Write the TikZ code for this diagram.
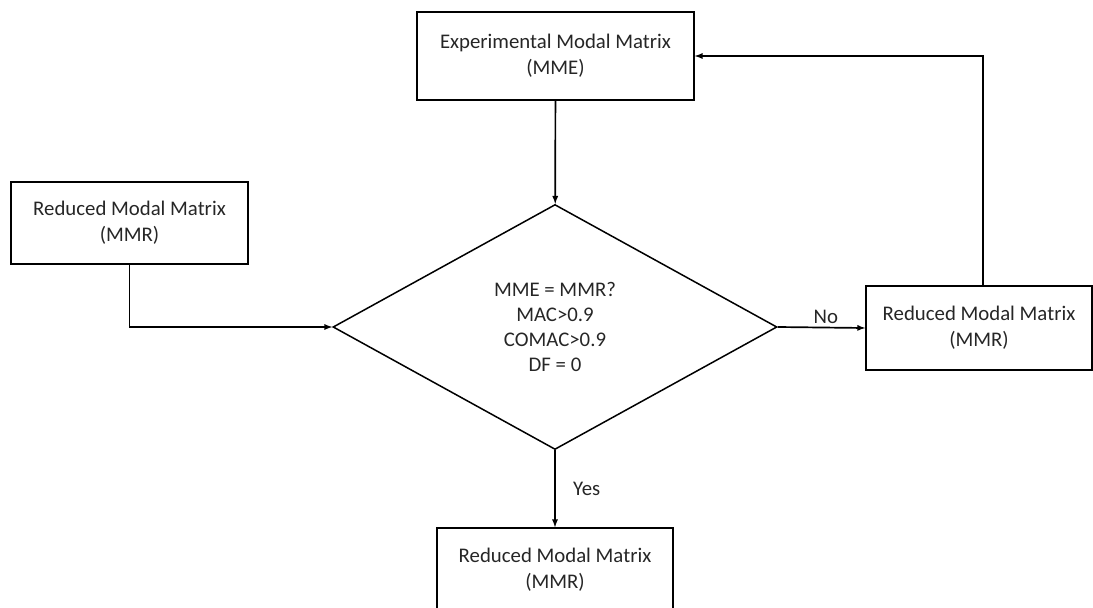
\documentclass[tikz,border=0pt]{standalone}
\usepackage{fontspec}
\setmainfont{Carlito}
\usepackage{tikz}
\usetikzlibrary{positioning}
\usetikzlibrary{shapes,arrows}
\begin{document}
\begin{tikzpicture}[x=1pt,y=-1pt]
\tikzstyle{matbox}=[rectangle, draw=black, line width=1.5pt, text=black!85, align=center, inner sep=0pt, minimum height=84pt, font=\fontsize{20.8}{26}\selectfont]
\tikzstyle{test}=[diamond, draw=black, line width=1.5pt, text=black!85, align=center, inner sep=0pt, minimum width=444pt, minimum height=245pt, font=\fontsize{20.8}{25}\selectfont]
\tikzstyle{lbl}=[text=black!85, font=\fontsize{20.8}{25}\selectfont]
\tikzstyle{connect}=[-latex, draw=black, line width=1.7pt]
\useasboundingbox (0,0) rectangle (1093,608);
	\node[matbox, minimum width=277pt, minimum height=88pt] (mme) at (555.5,56) {Experimental Modal Matrix\\(MME)};
	\node[matbox, minimum width=237pt, minimum height=82pt] (mmr_l) at (129.5,223) {Reduced Modal Matrix\\(MMR)};
	\node[test] (check) at (555,327) {MME = MMR?\\MAC>0.9\\COMAC>0.9\\DF = 0};
	\node[matbox, minimum width=226pt] (mmr_r) at (979,328) {Reduced Modal Matrix\\(MMR)};
	\node[matbox, minimum width=236pt] (mmr_b) at (555,570) {Reduced Modal Matrix\\(MMR)};
	
	
	\draw[connect] (mme) -- (check);
	\draw[connect] (mmr_l.south) |- (check.west);
	\draw[connect] (check.east) -- node[lbl, above, pos=0.55] {No} (mmr_r.west);
	\draw[connect] ([xshift=4]mmr_r.north) |- (mme.east);
	\draw[connect] (check.south) -- node[lbl, right, xshift=14pt] {Yes} (mmr_b.north);
		
\end{tikzpicture}
\end{document}
